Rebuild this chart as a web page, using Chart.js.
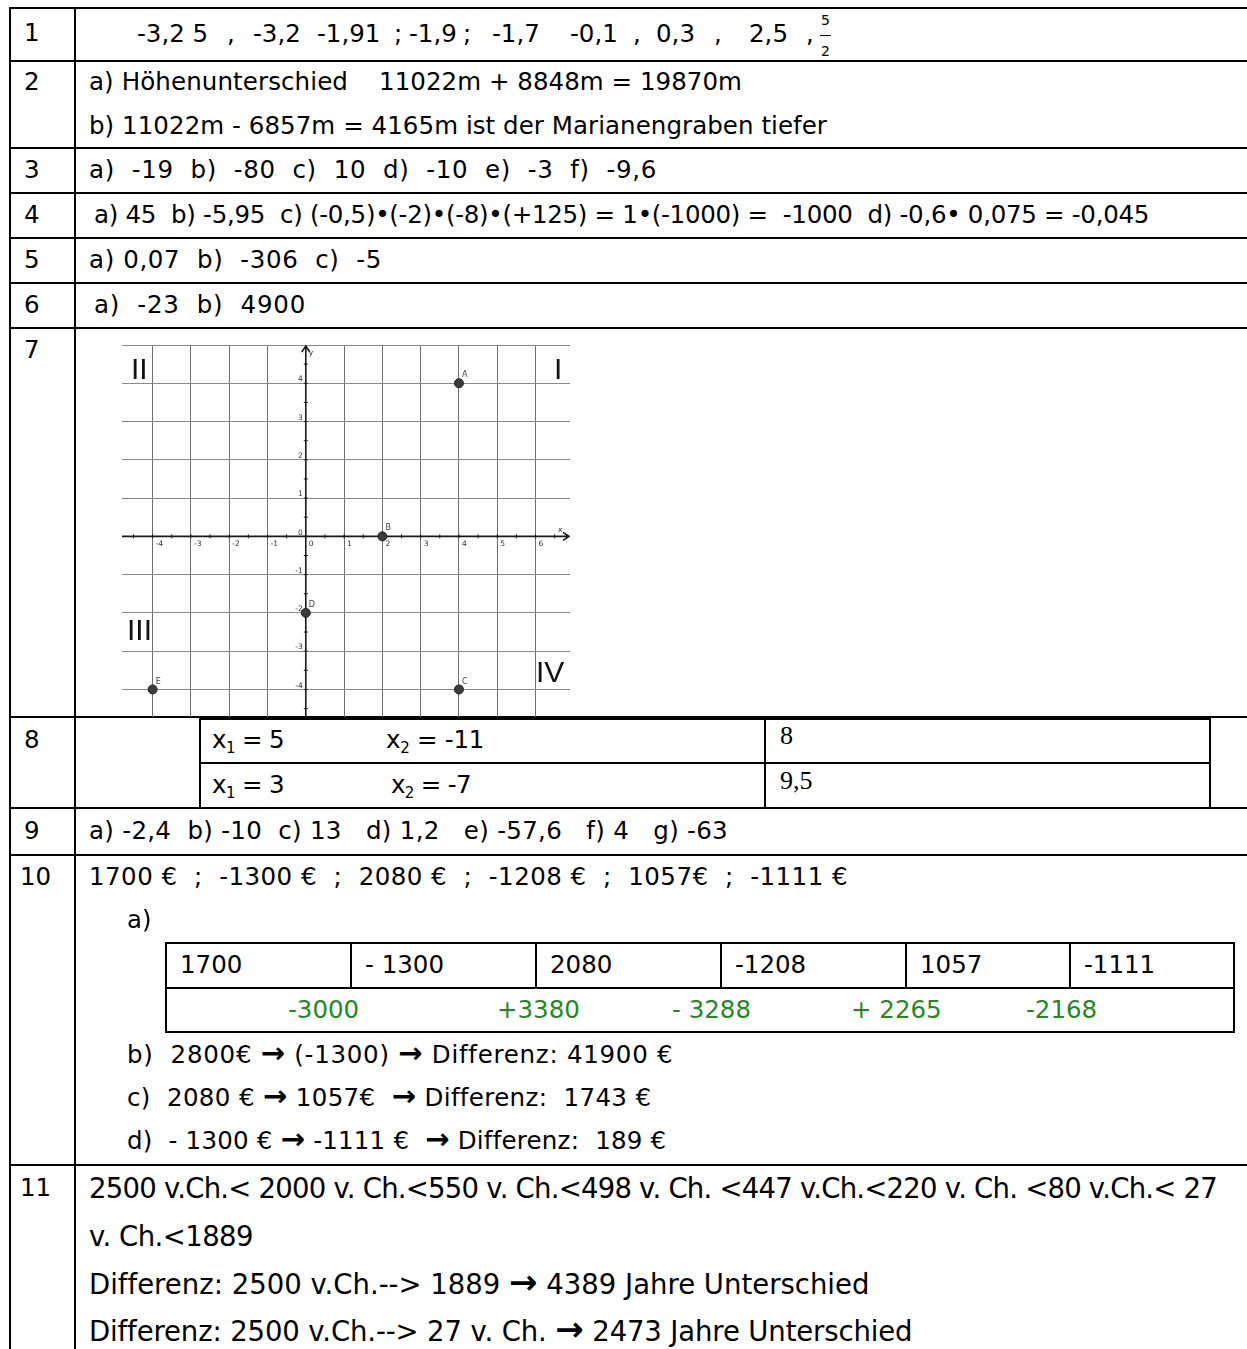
<!DOCTYPE html>
<html lang="de">
<head>
  <meta charset="UTF-8" />
  <title>Lösungen</title>
  <script src="https://cdn.jsdelivr.net/npm/chart.js"></script>
  <style>
    html, body { margin: 0; padding: 0; background: #fff; }
    body { width: 1247px; height: 1349px; position: relative; overflow: hidden; }
    .ln { position: absolute; background: #000; }
    .t {
      position: absolute;
      font-family: "DejaVu Sans", sans-serif;
      font-size: 24.5px;
      line-height: 28px;
      color: #000;
      white-space: pre;
    }
    .t sub { font-size: 15px; vertical-align: -5px; line-height: 0; }
    .big { font-size: 27.5px; }
    .serif { font-family: "Liberation Serif", serif; font-size: 26px; }
    .green { color: #1f8a1f; }
    .arr { font-weight: bold; font-size: 29px; line-height: 0; }
    .big .arr { font-size: 34px; }
    .quad {
      position: absolute;
      font-family: "Liberation Sans", Arial, sans-serif;
      font-size: 30px;
      line-height: 30px;
      color: #111;
      white-space: pre;
    }
    .frac { position: absolute; font-family: "DejaVu Sans", sans-serif; font-size: 14px; line-height: 14px; }
    #chartBox { position: absolute; left: 122px; top: 345px; width: 448px; height: 372px; }
  </style>
</head>
<body>

  <!-- Tabellenrahmen -->
  <div class="ln" style="left:9px; top:7px; width:1240px; height:2px"></div>
  <div class="ln" style="left:9px; top:7px; width:2px; height:1342px"></div>
  <div class="ln" style="left:74px; top:7px; width:2px; height:1342px"></div>
  <div class="ln" style="left:9px; top:60px; width:1240px; height:2px"></div>
  <div class="ln" style="left:9px; top:147px; width:1240px; height:2px"></div>
  <div class="ln" style="left:9px; top:192px; width:1240px; height:2px"></div>
  <div class="ln" style="left:9px; top:237px; width:1240px; height:2px"></div>
  <div class="ln" style="left:9px; top:282px; width:1240px; height:2px"></div>
  <div class="ln" style="left:9px; top:327px; width:1240px; height:2px"></div>
  <div class="ln" style="left:9px; top:716px; width:1240px; height:2px"></div>
  <div class="ln" style="left:9px; top:807px; width:1240px; height:2px"></div>
  <div class="ln" style="left:9px; top:854px; width:1240px; height:2px"></div>
  <div class="ln" style="left:9px; top:1164px; width:1240px; height:2px"></div>

  <!-- Nummern -->
  <div class="t" style="left:24px; top:19px">1</div>
  <div class="t" style="left:24px; top:68px">2</div>
  <div class="t" style="left:24px; top:156px">3</div>
  <div class="t" style="left:24px; top:201px">4</div>
  <div class="t" style="left:24px; top:246px">5</div>
  <div class="t" style="left:24px; top:291px">6</div>
  <div class="t" style="left:24px; top:336px">7</div>
  <div class="t" style="left:24px; top:726px">8</div>
  <div class="t" style="left:24px; top:817px">9</div>
  <div class="t" style="left:20px; top:863px">10</div>
  <div class="t" style="left:20px; top:1174px">11</div>

  <!-- 1 -->
  <div class="t" style="left:137px; top:20px">-3,2 5</div>
  <div class="t" style="left:227px; top:20px">,</div>
  <div class="t" style="left:253px; top:20px">-3,2</div>
  <div class="t" style="left:317px; top:20px">-1,91</div>
  <div class="t" style="left:394px; top:20px">;</div>
  <div class="t" style="left:409px; top:20px">-1,9</div>
  <div class="t" style="left:463px; top:20px">;</div>
  <div class="t" style="left:492px; top:20px">-1,7</div>
  <div class="t" style="left:570px; top:20px">-0,1</div>
  <div class="t" style="left:633px; top:20px">,</div>
  <div class="t" style="left:656px; top:20px">0,3</div>
  <div class="t" style="left:714px; top:20px">,</div>
  <div class="t" style="left:749px; top:20px">2,5</div>
  <div class="t" style="left:806px; top:20px">,</div>
  <div class="frac" style="left:821px; top:13px">5</div>
  <div class="ln" style="left:820px; top:35px; width:11px; height:1px"></div>
  <div class="frac" style="left:821px; top:44px">2</div>

  <!-- 2 -->
  <div class="t fit" data-end="347" style="left:89px; top:68px">a) Höhenunterschied</div>
  <div class="t fit" data-end="741" style="left:379px; top:68px">11022m + 8848m = 19870m</div>
  <div class="t fit" data-end="826" style="left:89px; top:112px">b) 11022m - 6857m = 4165m ist der Marianengraben tiefer</div>

  <!-- 3 - 6 -->
  <div class="t fit" data-end="656" style="left:89px; top:156px">a)  -19  b)  -80  c)  10  d)  -10  e)  -3  f)  -9,6</div>
  <div class="t fit" data-end="1148" style="left:94px; top:201px">a) 45  b) -5,95  c) (-0,5)•(-2)•(-8)•(+125) = 1•(-1000) =  -1000  d) -0,6• 0,075 = -0,045</div>
  <div class="t fit" data-end="381" style="left:89px; top:246px">a) 0,07  b)  -306  c)  -5</div>
  <div class="t fit" data-end="305" style="left:94px; top:291px">a)  -23  b)  4900</div>

  <!-- 7: Koordinatensystem -->
  <div id="chartBox"><canvas id="coordChart"></canvas></div>
  <div class="quad" style="left:131px; top:354px">II</div>
  <div class="quad" style="left:554px; top:354px">I</div>
  <div class="quad" style="left:127px; top:615px">III</div>
  <div class="quad" style="left:536px; top:657px">IV</div>

  <!-- 8 -->
  <div class="ln" style="left:199px; top:718px; width:1011px; height:2px"></div>
  <div class="ln" style="left:199px; top:762px; width:1011px; height:2px"></div>
  <div class="ln" style="left:199px; top:718px; width:2px; height:90px"></div>
  <div class="ln" style="left:764px; top:718px; width:2px; height:90px"></div>
  <div class="ln" style="left:1209px; top:718px; width:2px; height:90px"></div>
  <div class="t fit" data-end="283" style="left:212px; top:726px">x<sub>1</sub> = 5</div>
  <div class="t fit" data-end="483" style="left:386px; top:726px">x<sub>2</sub> = -11</div>
  <div class="t serif" style="left:780px; top:722px">8</div>
  <div class="t fit" data-end="283" style="left:212px; top:771px">x<sub>1</sub> = 3</div>
  <div class="t fit" data-end="470" style="left:391px; top:771px">x<sub>2</sub> = -7</div>
  <div class="t serif" style="left:780px; top:767px">9,5</div>

  <!-- 9 -->
  <div class="t fit" data-end="727" style="left:89px; top:817px">a) -2,4  b) -10  c) 13   d) 1,2   e) -57,6   f) 4   g) -63</div>

  <!-- 10 -->
  <div class="t fit" data-end="847" style="left:89px; top:863px">1700 €  ;  -1300 €  ;  2080 €  ;  -1208 €  ;  1057€  ;  -1111 €</div>
  <div class="t" style="left:127px; top:906px">a)</div>
  <div class="ln" style="left:165px; top:942px; width:1070px; height:2px"></div>
  <div class="ln" style="left:165px; top:987px; width:1070px; height:2px"></div>
  <div class="ln" style="left:165px; top:1031px; width:1070px; height:2px"></div>
  <div class="ln" style="left:165px; top:942px; width:2px; height:91px"></div>
  <div class="ln" style="left:1233px; top:942px; width:2px; height:91px"></div>
  <div class="ln" style="left:350px; top:942px; width:2px; height:46px"></div>
  <div class="ln" style="left:535px; top:942px; width:2px; height:46px"></div>
  <div class="ln" style="left:720px; top:942px; width:2px; height:46px"></div>
  <div class="ln" style="left:905px; top:942px; width:2px; height:46px"></div>
  <div class="ln" style="left:1069px; top:942px; width:2px; height:46px"></div>
  <div class="t" style="left:180px; top:951px">1700</div>
  <div class="t" style="left:365px; top:951px">- 1300</div>
  <div class="t" style="left:550px; top:951px">2080</div>
  <div class="t" style="left:735px; top:951px">-1208</div>
  <div class="t" style="left:920px; top:951px">1057</div>
  <div class="t" style="left:1084px; top:951px">-1111</div>
  <div class="t green" style="left:288px; top:996px">-3000</div>
  <div class="t green" style="left:497px; top:996px">+3380</div>
  <div class="t green" style="left:672px; top:996px">- 3288</div>
  <div class="t green" style="left:851px; top:996px">+ 2265</div>
  <div class="t green" style="left:1026px; top:996px">-2168</div>
  <div class="t fit" data-end="672" style="left:127px; top:1041px">b)  2800€ <span class="arr">→</span> (-1300) <span class="arr">→</span> Differenz: 41900 €</div>
  <div class="t fit" data-end="650" style="left:127px; top:1084px">c)  2080 € <span class="arr">→</span> 1057€  <span class="arr">→</span> Differenz:  1743 €</div>
  <div class="t fit" data-end="665" style="left:127px; top:1127px">d)  - 1300 € <span class="arr">→</span> -1111 €  <span class="arr">→</span> Differenz:  189 €</div>

  <!-- 11 -->
  <div class="t big fit" data-end="1216" style="left:89px; top:1174px">2500 v.Ch.&lt; 2000 v. Ch.&lt;550 v. Ch.&lt;498 v. Ch. &lt;447 v.Ch.&lt;220 v. Ch. &lt;80 v.Ch.&lt; 27</div>
  <div class="t big fit" data-end="252" style="left:89px; top:1222px">v. Ch.&lt;1889</div>
  <div class="t big fit" data-end="868" style="left:89px; top:1270px">Differenz: 2500 v.Ch.--&gt; 1889 <span class="arr">→</span> 4389 Jahre Unterschied</div>
  <div class="t big fit" data-end="911" style="left:89px; top:1317px">Differenz: 2500 v.Ch.--&gt; 27 v. Ch. <span class="arr">→</span> 2473 Jahre Unterschied</div>

  <script>
    // Zeilenlänge an die Vorlage anpassen
    document.querySelectorAll('.fit').forEach(el => {
      const target = +el.dataset.end + 1 - el.offsetLeft;
      const w = el.getBoundingClientRect().width;
      const n = el.textContent.length;
      el.style.letterSpacing = ((target - w) / n).toFixed(3) + 'px';
    });

    // Punkte im Koordinatensystem
    const pointNames = ['A', 'B', 'C', 'D', 'E'];
    const pointX = [4, 2, 4, 0, -4];
    const pointY = [4, 0, -4, -2, -4];

    // Achsenbeschriftung / Gitter
    const xTickValues = [-4, -3, -2, -1, 0, 1, 2, 3, 4, 5, 6];
    const xTickLabels = ['-4', '-3', '-2', '-1', '0', '1', '2', '3', '4', '5', '6'];
    const yTickValues = [-4, -3, -2, -1, 0, 1, 2, 3, 4];
    const yTickLabels = ['-4', '-3', '-2', '-1', '0', '1', '2', '3', '4'];
    const xGridValues = [-4, -3, -2, -1, 0, 1, 2, 3, 4, 5, 6];
    const yGridValues = [-4, -3, -2, -1, 0, 1, 2, 3, 4, 5];

    const axisPlugin = {
      id: 'axisPlugin',
      beforeDatasetsDraw(chart) {
        const { ctx, chartArea: a, scales: { x, y } } = chart;
        const x0 = x.getPixelForValue(0);
        const y0 = y.getPixelForValue(0);
        ctx.save();
        ctx.strokeStyle = '#1a1a1a';
        ctx.lineWidth = 1.6;
        ctx.beginPath();
        ctx.moveTo(a.left, y0); ctx.lineTo(a.right - 1, y0);
        ctx.moveTo(a.right - 7, y0 - 4); ctx.lineTo(a.right - 1, y0); ctx.lineTo(a.right - 7, y0 + 4);
        ctx.moveTo(x0, a.bottom); ctx.lineTo(x0, a.top + 1);
        ctx.moveTo(x0 - 4, a.top + 7); ctx.lineTo(x0, a.top + 1); ctx.lineTo(x0 + 4, a.top + 7);
        ctx.stroke();

        // kleine Striche alle 0,5
        ctx.lineWidth = 1;
        ctx.beginPath();
        for (let v = Math.ceil(x.min * 2) / 2; v < x.max - 0.3; v += 0.5) {
          const px = x.getPixelForValue(v);
          ctx.moveTo(px, y0 - 2); ctx.lineTo(px, y0 + 2);
        }
        for (let v = Math.ceil(y.min * 2) / 2; v < y.max - 0.3; v += 0.5) {
          const py = y.getPixelForValue(v);
          ctx.moveTo(x0 - 2, py); ctx.lineTo(x0 + 2, py);
        }
        ctx.stroke();

        ctx.fillStyle = '#333';
        ctx.font = '7.5px "DejaVu Sans"';
        ctx.textAlign = 'left';
        ctx.textBaseline = 'top';
        xTickValues.forEach((v, i) => {
          ctx.fillText(xTickLabels[i], x.getPixelForValue(v) + 3, y0 + 4);
        });
        ctx.textAlign = 'right';
        ctx.textBaseline = 'bottom';
        yTickValues.forEach((v, i) => {
          ctx.fillText(yTickLabels[i], x0 - 3, y.getPixelForValue(v));
        });
        ctx.textAlign = 'left';
        ctx.fillText('x', a.right - 12, y0 - 3);
        ctx.textBaseline = 'top';
        ctx.fillText('y', x0 + 3, a.top + 4);
        ctx.restore();
      },
      afterDatasetsDraw(chart) {
        const { ctx } = chart;
        const meta = chart.getDatasetMeta(0);
        ctx.save();
        ctx.fillStyle = '#444';
        ctx.font = '8px "DejaVu Sans"';
        ctx.textAlign = 'left';
        ctx.textBaseline = 'bottom';
        meta.data.forEach((pt, i) => {
          ctx.fillText(pointNames[i], pt.x + 3, pt.y - 4);
        });
        ctx.restore();
      }
    };

    const gridColor = col => ctx => Number.isInteger(ctx.tick.value) ? col : 'rgba(0,0,0,0)';

    new Chart(document.getElementById('coordChart'), {
      type: 'scatter',
      data: {
        datasets: [{
          data: pointX.map((v, i) => ({ x: v, y: pointY[i] })),
          backgroundColor: '#3c3c3c',
          borderColor: '#222',
          borderWidth: 1,
          pointRadius: 4.5
        }]
      },
      options: {
        responsive: true,
        maintainAspectRatio: false,
        animation: false,
        layout: { padding: 0, autoPadding: false },
        plugins: { legend: { display: false }, tooltip: { enabled: false } },
        scales: {
          x: {
            type: 'linear', min: -4.8, max: 6.9,
            afterBuildTicks: s => { s.ticks = xGridValues.map(v => ({ value: v })); },
            ticks: { display: false },
            grid: { color: gridColor('#6f6f6f'), lineWidth: 1, drawTicks: false },
            border: { display: false }
          },
          y: {
            type: 'linear', min: -4.72, max: 5.0,
            afterBuildTicks: s => { s.ticks = yGridValues.map(v => ({ value: v })); },
            ticks: { display: false },
            grid: { color: gridColor('#8a8a8a'), lineWidth: 1, drawTicks: false },
            border: { display: false }
          }
        }
      },
      plugins: [axisPlugin]
    });
  </script>
</body>
</html>
